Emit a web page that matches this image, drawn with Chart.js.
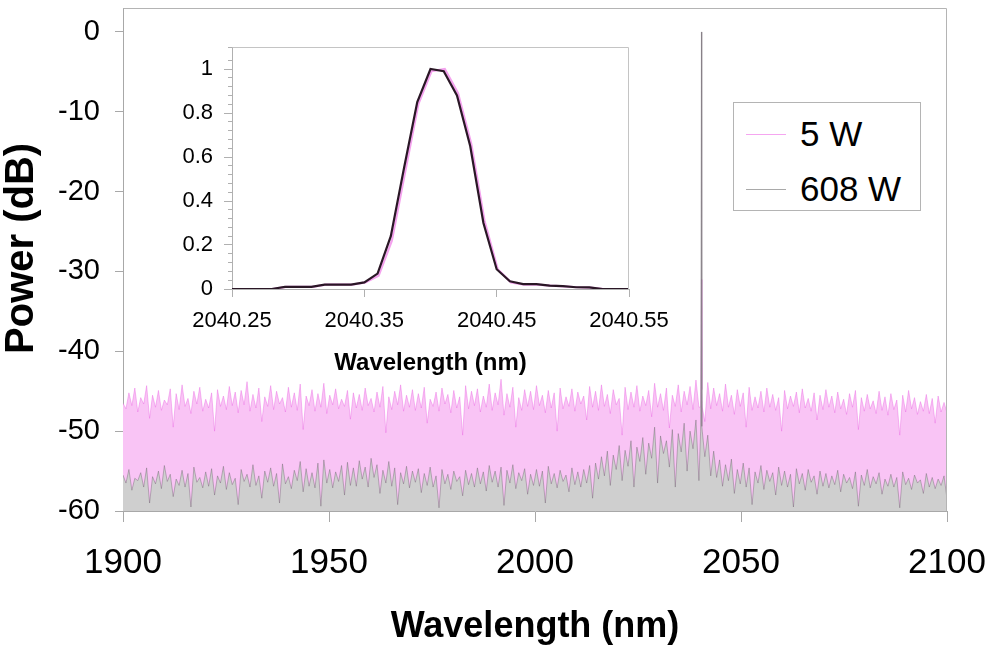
<!DOCTYPE html>
<html>
<head>
<meta charset="utf-8">
<script src="https://cdn.jsdelivr.net/npm/chart.js@4/dist/chart.umd.min.js"></script>
<style>
  html, body { margin: 0; padding: 0; background: #ffffff; }
  #wrap { position: relative; width: 987px; height: 645px; overflow: hidden; font-family: "Liberation Sans", Arial, sans-serif; }
  #main { position: absolute; left: 0; top: 0; }
  #inset { position: absolute; left: 150px; top: 30px; }
  #legend { position: absolute; left: 733px; top: 102px; width: 186px; height: 107px; border: 1px solid #b4b4b4; background: #fff; }
  .row { position: absolute; left: 0; height: 44px; display: flex; align-items: center; }
  .swatch { width: 40px; height: 0; border-top: 1px solid; margin-left: 12px; margin-right: 14px; }
  .lbl { font-size: 35px; color: #000; line-height: 44px; }
</style>
</head>
<body>
<div id="wrap">
  <canvas id="main" width="987" height="645"></canvas>
  <canvas id="inset" width="520" height="345"></canvas>
  <div id="legend">
    <div class="row" style="top:9px"><div class="swatch" style="border-color:#f5a6f0"></div><span class="lbl" id="lg0"></span></div>
    <div class="row" style="top:64px"><div class="swatch" style="border-color:#a9a9a9"></div><span class="lbl" id="lg1"></span></div>
  </div>
</div>
<script>
// ---------------- data ----------------
const seriesNames = ["5 W", "608 W"];

// main spectrum: wavelength range (nm) and tick labels
const mainXTicks = [1900, 1950, 2000, 2050, 2100];
const mainYTicks = [0, -10, -20, -30, -40, -50, -60];
const noiseStart = 1900;
const noiseEnd = 2100;

// 5 W noise floor: local maxima (spikes) and minima between them (dB)
const pinkHi = [
 -46.5,-45.2,-44.6,-45.8,-44.3,-45.5,-44.9,-46.1,-44.7,-45.3,-44.2,-45.9,-45.0,-44.5,-46.0,-45.2,-44.8,-45.6,-44.4,-45.1,
 -44.9,-43.8,-45.4,-44.6,-45.7,-44.3,-45.0,-45.8,-44.5,-45.2,-44.1,-45.6,-44.8,-45.3,-44.0,-45.5,-44.7,-46.0,-44.9,-45.2,
 -45.4,-44.6,-45.9,-45.1,-44.4,-45.7,-45.0,-44.2,-45.5,-44.8,-45.3,-44.5,-46.0,-45.1,-44.6,-45.4,-44.9,-45.7,-44.3,-45.0,
 -44.7,-45.6,-44.1,-45.2,-43.5,-45.3,-44.5,-45.8,-44.8,-45.0,-44.3,-45.5,-44.9,-45.2,-44.6,-45.7,-44.7,-45.1,-45.6,-44.4,
 -45.0,-44.2,-45.4,-44.8,-45.9,-44.5,-45.1,-44.3,-45.6,-44.9,-44.0,-45.3,-44.6,-45.5,-44.2,-45.0,-44.4,-43.6,-44.8,-43.9,
 -44.6,-45.3,-44.1,-45.5,-44.8,-45.2,-44.5,-45.7,-45.0,-44.6,-45.4,-45.8,-44.9,-45.6,-45.1,-44.7,-45.9,-45.2,-45.5,-44.8,
 -45.6,-45.1,-46.0,-45.3,-44.9,-45.8,-45.4,-46.2,-45.0,-45.7,-45.3,-46.1,-45.5,-44.9,-45.8,-46.3,-45.4,-45.9,-45.6,-46.4
];
const pinkLo = [
 -47.2,-46.8,-47.6,-46.6,-48.4,-47.0,-47.4,-46.7,-49.5,-47.3,-46.9,-47.8,-46.6,-47.5,-47.1,-50.0,-46.9,-47.3,-46.8,-47.7,
 -46.7,-47.5,-47.1,-48.8,-46.9,-47.3,-46.6,-47.6,-47.0,-47.4,-49.8,-46.8,-47.5,-47.0,-47.8,-46.7,-47.2,-46.9,-48.5,-47.1,
 -47.4,-46.8,-47.6,-47.0,-50.2,-47.3,-46.7,-47.5,-47.0,-47.4,-47.1,-49.0,-46.9,-47.5,-46.6,-47.7,-47.1,-50.5,-47.2,-46.8,
 -47.6,-47.0,-47.4,-46.7,-48.0,-47.0,-49.5,-47.4,-46.9,-47.3,-46.8,-47.7,-47.1,-50.0,-47.2,-46.9,-47.5,-46.6,-48.6,-47.0,
 -47.4,-46.9,-47.8,-46.7,-50.5,-47.3,-47.0,-47.5,-46.8,-48.2,-47.0,-47.4,-49.6,-46.9,-47.6,-46.7,-47.3,-47.0,-48.8,-47.2,
 -46.8,-47.5,-47.0,-47.9,-46.9,-49.5,-47.4,-47.1,-47.6,-47.0,-47.4,-50.0,-47.2,-46.9,-47.7,-47.1,-47.5,-48.6,-47.3,-47.0,
 -47.7,-47.2,-47.9,-47.0,-49.8,-47.5,-47.2,-47.8,-47.4,-48.0,-47.3,-50.5,-47.6,-47.2,-47.9,-47.5,-47.8,-49.0,-47.6,-47.7
];
// 608 W noise floor
const grayHi = [
 -55.5,-54.8,-55.9,-55.2,-54.6,-55.7,-55.0,-54.3,-55.4,-56.0,-54.9,-55.3,-54.5,-55.8,-55.1,-54.7,-55.6,-54.4,-55.2,-55.9,
 -54.8,-55.4,-54.2,-55.6,-55.0,-54.6,-55.3,-54.1,-55.7,-54.9,-53.8,-54.7,-55.2,-54.0,-53.6,-54.8,-55.1,-54.3,-53.9,-54.6,
 -53.7,-54.5,-53.4,-54.2,-54.9,-53.8,-54.6,-55.2,-54.4,-55.0,-54.7,-55.3,-54.5,-55.6,-54.8,-55.4,-55.0,-55.7,-54.9,-55.3,
 -54.6,-55.1,-54.3,-55.0,-54.5,-54.9,-54.2,-55.2,-54.7,-55.4,-54.8,-55.0,-54.4,-55.3,-54.9,-55.5,-54.6,-55.1,-54.8,-54.3,
 -54.0,-53.2,-52.5,-53.0,-51.8,-52.4,-51.2,-52.0,-50.8,-51.5,-49.5,-50.6,-51.2,-49.8,-50.3,-49.0,-50.0,-48.6,-49.4,-50.5,
 -52.5,-53.6,-54.2,-53.5,-54.8,-54.0,-54.6,-55.1,-54.3,-54.9,-55.2,-54.5,-55.0,-55.4,-54.7,-55.3,-54.8,-55.6,-55.0,-55.3,
 -55.6,-54.9,-55.4,-55.8,-55.1,-55.5,-54.8,-55.7,-55.2,-56.0,-55.4,-55.8,-55.1,-55.9,-55.5,-56.1,-55.3,-55.8,-56.0,-55.6
];
const grayLo = [
 -56.5,-57.4,-56.2,-57.0,-59.0,-56.6,-57.2,-56.3,-58.2,-56.8,-57.0,-59.5,-56.4,-57.1,-56.9,-58.0,-56.5,-57.3,-56.7,-59.2,
 -56.3,-57.0,-56.8,-58.4,-56.4,-56.9,-59.0,-56.6,-57.2,-56.2,-57.6,-56.9,-57.1,-59.4,-56.5,-57.1,-56.3,-58.0,-56.8,-56.9,
 -56.0,-57.0,-55.8,-57.8,-56.5,-56.9,-59.2,-56.6,-57.1,-56.4,-57.7,-56.8,-57.0,-59.6,-56.6,-57.3,-56.3,-58.1,-56.7,-57.0,
 -56.6,-57.5,-56.4,-57.0,-59.3,-56.5,-57.2,-56.2,-57.9,-56.8,-56.9,-59.0,-56.6,-57.1,-56.3,-57.6,-56.7,-57.0,-56.5,-58.4,
 -56.0,-55.6,-56.8,-54.8,-56.2,-54.4,-57.0,-53.8,-55.4,-53.4,-56.5,-52.8,-54.5,-57.0,-52.6,-55.0,-52.2,-56.2,-53.2,-55.6,
 -55.8,-56.9,-56.2,-57.8,-56.6,-57.0,-59.2,-56.5,-57.3,-56.3,-58.0,-56.8,-57.0,-59.5,-56.6,-57.4,-56.4,-57.9,-56.9,-57.1,
 -56.7,-57.6,-56.5,-57.2,-59.4,-56.8,-57.1,-56.6,-57.9,-56.9,-57.0,-59.6,-56.7,-57.3,-56.5,-57.8,-57.0,-57.2,-56.8,-58.5
];
// laser line at 2040.4 nm
const peakX = [2040.2, 2040.4, 2040.6];
const peakPink = [-47.0, -31.0, -47.0];
const peakGray = [-50.0, 0.0, -50.0];

// inset: normalized line shape
const insetX = [2040.25,2040.26,2040.27,2040.28,2040.29,2040.30,2040.31,2040.32,2040.33,2040.34,
                2040.35,2040.36,2040.37,2040.38,2040.39,2040.40,2040.41,2040.42,2040.43,2040.44,
                2040.45,2040.46,2040.47,2040.48,2040.49,2040.50,2040.51,2040.52,2040.53,2040.54,2040.55];
const inset5W   = [0,0,0,0,0.01,0.01,0.01,0.02,0.02,0.02,0.03,0.06,0.22,0.53,0.84,0.99,1.0,0.89,0.66,0.31,0.09,0.03,0.02,0.02,0.015,0.012,0.008,0.006,0,0,0];
const inset608W = [0,0,0,0,0.01,0.01,0.01,0.02,0.02,0.02,0.03,0.07,0.24,0.55,0.85,1.0,0.99,0.88,0.65,0.30,0.09,0.035,0.022,0.022,0.015,0.013,0.008,0.007,0,0,0];
const insetXTicks = [2040.25, 2040.35, 2040.45, 2040.55];
const insetYMajor = [0, 0.2, 0.4, 0.6, 0.8, 1];

// ---------------- build ----------------
document.getElementById('lg0').textContent = seriesNames[0];
document.getElementById('lg1').textContent = seriesNames[1];

function buildSeries(hi, lo, pkY) {
  const n = hi.length * 2;
  const step = (noiseEnd - noiseStart) / (n - 1);
  const pts = [];
  for (let k = 0; k < hi.length; k++) {
    pts.push({ x: noiseStart + 2 * k * step, y: hi[k] });
    pts.push({ x: noiseStart + (2 * k + 1) * step, y: lo[k] });
  }
  peakX.forEach((x, i) => pts.push({ x: x, y: pkY[i] }));
  pts.sort((a, b) => a.x - b.x);
  return pts;
}

const FONT = '"Liberation Sans", Arial, sans-serif';

function noEdgePad(s) { s.paddingLeft = 0; s.paddingRight = 0; s.paddingTop = 0; s.paddingBottom = 0; }

const boxPlugin = {
  id: 'box',
  afterDraw(chart, args, opts) {
    const a = chart.chartArea, ctx = chart.ctx;
    ctx.save();
    ctx.strokeStyle = opts.color || '#b0b0b0';
    ctx.lineWidth = 1;
    ctx.beginPath();
    ctx.moveTo(Math.round(a.left) + 0.5, Math.round(a.top) + 0.5);
    ctx.lineTo(Math.round(a.right) - 0.5, Math.round(a.top) + 0.5);
    ctx.lineTo(Math.round(a.right) - 0.5, Math.round(a.bottom) + 0.5);
    ctx.stroke();
    ctx.restore();
  }
};

new Chart(document.getElementById('main'), {
  type: 'line',
  plugins: [boxPlugin],
  data: {
    datasets: [
      { label: seriesNames[1], data: buildSeries(grayHi, grayLo, peakGray),
        borderColor: 'rgba(105,95,105,0.5)', backgroundColor: '#cfcfcf', borderWidth: 0.8, fill: 'start' },
      { label: seriesNames[0], data: buildSeries(pinkHi, pinkLo, peakPink),
        borderColor: 'rgba(232,95,226,0.5)', backgroundColor: '#f9c4f5', borderWidth: 0.8, fill: 'start' }
    ]
  },
  options: {
    responsive: false, animation: false, devicePixelRatio: 1,
    parsing: false, normalized: true,
    elements: { point: { radius: 0 }, line: { tension: 0 } },
    layout: { padding: { left: 0, right: 40, top: 8, bottom: 0 } },
    plugins: { legend: { display: false }, tooltip: { enabled: false }, box: { color: '#b4b4b4' } },
    scales: {
      x: {
        type: 'linear', min: mainXTicks[0], max: mainXTicks[mainXTicks.length - 1],
        afterBuildTicks: s => { s.ticks = mainXTicks.map(v => ({ value: v })); },
        afterFit: s => { s.height = 134; noEdgePad(s); },
        grid: { drawOnChartArea: false, tickLength: 11, color: '#a8a8a8' },
        border: { color: '#a8a8a8' },
        ticks: { color: '#000', padding: 20, maxRotation: 0, autoSkip: false,
                 font: { family: FONT, size: 35 }, callback: v => String(v) },
        title: { display: true, text: 'Wavelength (nm)', color: '#000', padding: 0,
                 font: { family: FONT, size: 36, weight: 'bold', lineHeight: 1 } }
      },
      y: {
        type: 'linear', min: -60, max: 3,
        afterBuildTicks: s => { s.ticks = mainYTicks.map(v => ({ value: v })); },
        afterFit: s => { s.width = 123; noEdgePad(s); },
        grid: { drawOnChartArea: false, tickLength: 8, color: '#a8a8a8' },
        border: { color: '#a8a8a8' },
        ticks: { color: '#000', padding: 15, autoSkip: false,
                 font: { family: FONT, size: 29 }, callback: v => String(v) },
        title: { display: true, text: '  Power (dB)', color: '#000', padding: { top: 2, bottom: 0 },
                 font: { family: FONT, size: 40, weight: 'bold', lineHeight: 1 } }
      }
    }
  }
});

function isMajor(v) { return insetYMajor.some(m => Math.abs(m - v) < 1e-6); }

new Chart(document.getElementById('inset'), {
  type: 'line',
  plugins: [boxPlugin],
  data: {
    datasets: [
      { label: seriesNames[1], data: insetX.map((x, i) => ({ x: x, y: inset608W[i] })),
        borderColor: '#2a1726', borderWidth: 2.2, fill: false },
      { label: seriesNames[0], data: insetX.map((x, i) => ({ x: x + 0.0008, y: inset5W[i] })),
        borderColor: '#f4a2ee', borderWidth: 2.2, fill: false }
    ]
  },
  options: {
    responsive: false, animation: false, devicePixelRatio: 1,
    parsing: false,
    elements: { point: { radius: 0 }, line: { tension: 0 } },
    layout: { padding: { left: 0, right: 41, top: 17, bottom: 0 } },
    plugins: { legend: { display: false }, tooltip: { enabled: false }, box: { color: '#c4c4c4' } },
    scales: {
      x: {
        type: 'linear', min: insetXTicks[0], max: insetXTicks[insetXTicks.length - 1],
        afterBuildTicks: s => { s.ticks = insetXTicks.map(v => ({ value: v })); },
        afterFit: s => { s.height = 86; noEdgePad(s); },
        grid: { drawOnChartArea: false, tickLength: 8, color: '#b0b0b0' },
        border: { color: '#b0b0b0' },
        ticks: { color: '#000', padding: 11, maxRotation: 0, autoSkip: false,
                 font: { family: FONT, size: 22 }, callback: v => v.toFixed(2) },
        title: { display: true, text: 'Wavelength (nm)', color: '#000', padding: { top: 6, bottom: 0 },
                 font: { family: FONT, size: 24, weight: 'bold', lineHeight: 1 } }
      },
      y: {
        type: 'linear', min: 0, max: 1.1,
        afterFit: s => { s.width = 82; noEdgePad(s); },
        grid: { drawOnChartArea: false, tickLength: 8, color: '#b0b0b0',
                tickBorderDash: ctx => isMajor(ctx.tick.value) ? [] : [0, 4, 4, 0] },
        border: { color: '#b0b0b0' },
        ticks: { color: '#000', padding: 11, stepSize: 0.04, maxTicksLimit: 100, autoSkip: false,
                 font: { family: FONT, size: 22 },
                 callback: v => isMajor(v) ? String(+v.toFixed(1)) : '' }
      }
    }
  }
});
</script>
</body>
</html>
